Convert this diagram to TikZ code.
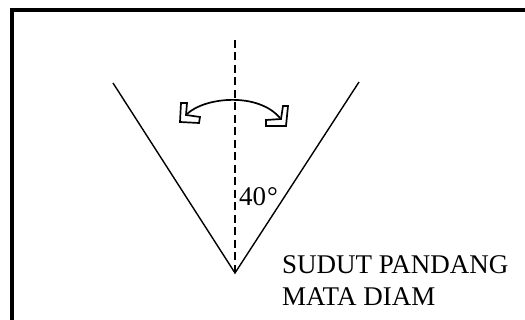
\documentclass[tikz,border=0pt]{standalone}
\usepackage{fontspec}
\setmainfont{Liberation Serif}
\begin{document}
\begin{tikzpicture}[x=1pt,y=1pt,
  frame/.style={line width=3.2pt},
  ray/.style={line width=1.4pt},
  axis/.style={line width=1.7pt,dash pattern=on 8pt off 4.5pt},
  swing/.style={line width=1.7pt},
  head/.style={line width=1.7pt,line join=miter,fill=white},
  lbl/.style={inner sep=0pt,anchor=base west,font=\fontsize{27}{31}\selectfont}]
\useasboundingbox (0,0) rectangle (525,-320);
\fill[white] (0,0) rectangle (525,-320);
% frame (cut by the page)
\draw[frame] (12,-322) -- (12,-10) -- (527,-10);
% named points
\coordinate (v) at (235,-273);
\coordinate (lt) at (113,-83);
\coordinate (rt) at (359,-82);
\coordinate (ax) at (235,-40);
\coordinate (al) at (187,-114);
\coordinate (ar) at (280,-118);
% rays
\draw[ray] (lt) -- (v) -- (rt);
% axis
\draw[axis] (ax) -- (v);
% swing arrow
\draw[swing] (al) .. controls (205,-97) and (258,-92) .. (ar);
\draw[head] (181,-103) -- (187,-103) -- (186,-115) -- (200,-117) -- (199,-123) -- (180,-122) -- cycle;
\draw[head] (288,-106) -- (283,-106) -- (281,-119) -- (266,-120) -- (266,-126) -- (286,-126) -- cycle;
% labels
\node[lbl] (ang) at (239,-206) {40\kern1pt°};
\node[lbl] (t1) at (282,-274) {SUDUT PANDANG};
\node[lbl] (t2) at (282,-306) {MATA DIAM};
\end{tikzpicture}
\end{document}
